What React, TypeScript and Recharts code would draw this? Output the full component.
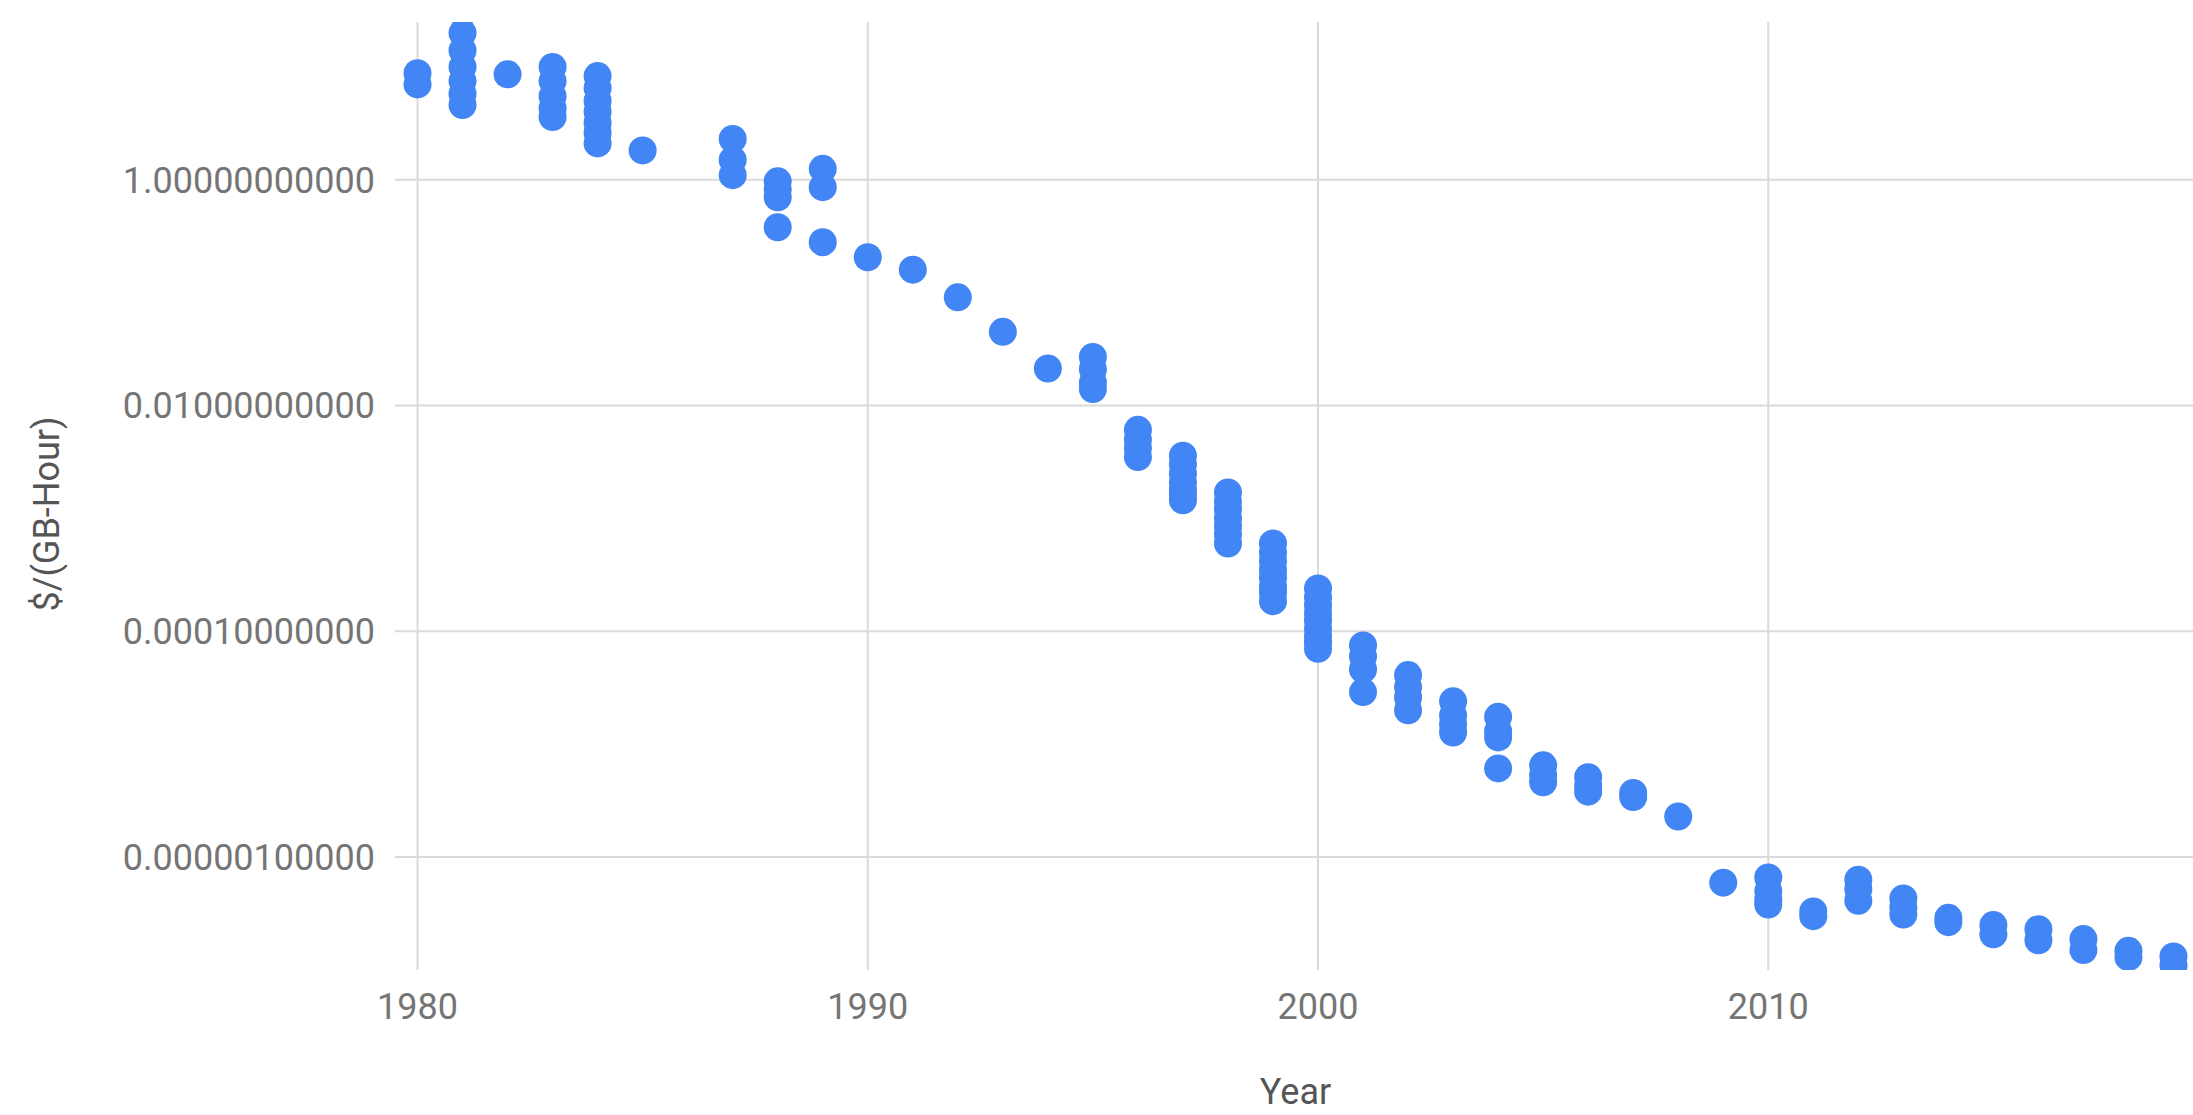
import React from 'react';
import {
  ScatterChart,
  Scatter,
  XAxis,
  YAxis,
  CartesianGrid,
  Label,
} from 'recharts';

const years = [
  1980, 1981, 1982, 1983, 1984, 1985, 1987, 1988, 1989, 1990, 1991, 1992, 1993,
  1994, 1995, 1996, 1997, 1998, 1999, 2000, 2001, 2002, 2003, 2004, 2005, 2006,
  2007, 2008, 2009, 2010, 2011, 2012, 2013, 2014, 2015, 2016, 2017, 2018, 2019,
];

// $/(GB-Hour) readings for each year, in the same order as `years`
const pricesByYear: number[][] = [
  [8.8, 7.0],
  [30, 20, 14, 10, 7.5, 5.8, 4.6],
  [8.6],
  [10, 7.5, 5.5, 4.3, 3.6],
  [8.3, 6.5, 5, 4, 3.2, 2.6, 2.1],
  [1.82],
  [2.3, 1.5, 1.1],
  [0.97, 0.82, 0.7, 0.38],
  [1.25, 0.86, 0.28],
  [0.206],
  [0.16],
  [0.091],
  [0.045],
  [0.0213],
  [0.027, 0.021, 0.016, 0.014],
  [0.0061, 0.005, 0.0042, 0.0035],
  [0.0036, 0.003, 0.0025, 0.0021, 0.0018, 0.0016, 0.00145],
  [0.0017, 0.0014, 0.0012, 0.001, 0.00085, 0.00072, 0.0006],
  [0.0006, 0.0005, 0.00042, 0.00035, 0.0003, 0.00025, 0.00022, 0.000185],
  [0.00024, 0.0002, 0.00017, 0.000145, 0.000125, 0.000105, 0.00009, 0.00008, 0.00007],
  [7.5e-5, 6.0e-5, 4.6e-5, 2.9e-5],
  [4.1e-5, 3.2e-5, 2.6e-5, 2.0e-5],
  [2.4e-5, 1.8e-5, 1.5e-5, 1.27e-5],
  [1.75e-5, 1.3e-5, 1.15e-5, 6.1e-6],
  [6.5e-6, 5.3e-6, 4.6e-6],
  [5.1e-6, 4.3e-6, 3.8e-6],
  [3.7e-6, 3.4e-6],
  [2.29e-6],
  [5.94e-7],
  [6.6e-7, 5.0e-7, 4.2e-7, 3.8e-7],
  [3.3e-7, 3.0e-7],
  [6.3e-7, 5.2e-7, 4.1e-7],
  [4.3e-7, 3.6e-7, 3.1e-7],
  [2.9e-7, 2.65e-7],
  [2.5e-7, 2.07e-7],
  [2.3e-7, 1.83e-7],
  [1.88e-7, 1.5e-7],
  [1.48e-7, 1.3e-7],
  [1.32e-7, 1.1e-7],
];

const xTicks = [1980, 1990, 2000, 2010];
const yTicks = [1, 0.01, 0.0001, 0.000001];

const data = years.flatMap((year, i) =>
  pricesByYear[i].map((price) => ({ year, price }))
);

const FONT = 'Roboto';
const tickStyle = { fill: '#757575', fontSize: 36, fontFamily: FONT };

const Dot = (props: any) => (
  <circle cx={props.cx} cy={props.cy} r={14} fill="#4285F4" />
);

const YTitle = () => (
  <text
    x={59}
    y={514}
    transform="rotate(-90, 59, 514)"
    textAnchor="middle"
    fill="#555555"
    fontSize={36}
    fontFamily={FONT}
  >
    $/(GB-Hour)
  </text>
);

export default function App() {
  return (
    <div
      style={{
        position: 'absolute',
        left: 0,
        top: 0,
        width: 2193,
        height: 1115,
        overflow: 'hidden',
        background: '#fff',
      }}
    >
      <ScatterChart
        width={2200}
        height={1115}
        margin={{ top: 22, right: 4, bottom: 0, left: 0 }}
      >
        <CartesianGrid stroke="#dadada" strokeWidth={2} syncWithTicks />
        <XAxis
          type="number"
          dataKey="year"
          domain={[1979.5, 2019.5]}
          ticks={xTicks}
          allowDataOverflow
          axisLine={false}
          tickLine={false}
          tickMargin={17}
          height={145}
          tick={tickStyle}
        >
          <Label
            value="Year"
            position="insideBottom"
            offset={11}
            fill="#555555"
            fontSize={36}
            fontFamily={FONT}
          />
        </XAxis>
        <YAxis
          type="number"
          dataKey="price"
          scale="log"
          domain={[1e-7, 25]}
          ticks={yTicks}
          allowDataOverflow
          axisLine={false}
          tickLine={false}
          tickMargin={14}
          width={395}
          tick={tickStyle}
          tickFormatter={(v: number) => v.toFixed(11)}
        >
          <Label content={<YTitle />} />
        </YAxis>
        <Scatter data={data} shape={Dot} isAnimationActive={false} />
      </ScatterChart>
    </div>
  );
}
